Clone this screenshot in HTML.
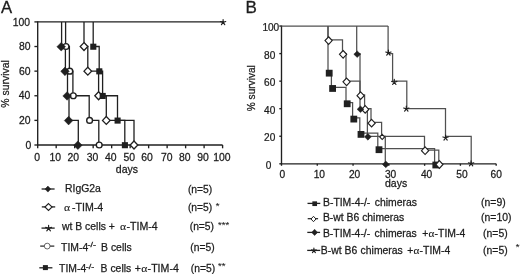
<!DOCTYPE html>
<html><head><meta charset="utf-8"><title>Survival curves</title>
<style>
html,body{margin:0;padding:0;background:#fff;}
body{width:520px;height:274px;overflow:hidden;}
svg{display:block;filter:grayscale(1);}
text{font-family:"Liberation Sans", sans-serif;fill:#1c1c1c;}
</style></head>
<body>
<svg width="520" height="274" viewBox="0 0 520 274">
<rect width="520" height="274" fill="#fff"/>
<text transform="translate(1,13) scale(1.03,1)" font-size="16.2" text-anchor="start" stroke="#1c1c1c" stroke-width="0.3" >A</text>
<path d="M37.7,21.3V145H222.6" stroke="#202020" stroke-width="1.35" fill="none"/>
<path d="M34.4,145H37.7" stroke="#202020" stroke-width="1.35"/>
<path d="M34.4,120.38H37.7" stroke="#202020" stroke-width="1.35"/>
<path d="M34.4,95.76H37.7" stroke="#202020" stroke-width="1.35"/>
<path d="M34.4,71.14H37.7" stroke="#202020" stroke-width="1.35"/>
<path d="M34.4,46.52H37.7" stroke="#202020" stroke-width="1.35"/>
<path d="M34.4,21.9H37.7" stroke="#202020" stroke-width="1.35"/>
<text transform="translate(30,25.7) scale(1.04,1)" font-size="10" text-anchor="end" stroke="#1c1c1c" stroke-width="0.25" >100</text>
<text transform="translate(30.5,50.2) scale(1.04,1)" font-size="10" text-anchor="end" stroke="#1c1c1c" stroke-width="0.25" >80</text>
<text transform="translate(30.5,74.8) scale(1.04,1)" font-size="10" text-anchor="end" stroke="#1c1c1c" stroke-width="0.25" >60</text>
<text transform="translate(30.4,99.3) scale(1.04,1)" font-size="10" text-anchor="end" stroke="#1c1c1c" stroke-width="0.25" >40</text>
<text transform="translate(30.5,123.9) scale(1.04,1)" font-size="10" text-anchor="end" stroke="#1c1c1c" stroke-width="0.25" >20</text>
<text transform="translate(31.2,148.9) scale(1.04,1)" font-size="10" text-anchor="end" stroke="#1c1c1c" stroke-width="0.25" >0</text>
<path d="M37.7,145V148.3" stroke="#202020" stroke-width="1.35"/>
<path d="M56.19,145V148.3" stroke="#202020" stroke-width="1.35"/>
<path d="M74.68,145V148.3" stroke="#202020" stroke-width="1.35"/>
<path d="M93.17,145V148.3" stroke="#202020" stroke-width="1.35"/>
<path d="M111.66,145V148.3" stroke="#202020" stroke-width="1.35"/>
<path d="M130.15,145V148.3" stroke="#202020" stroke-width="1.35"/>
<path d="M148.64,145V148.3" stroke="#202020" stroke-width="1.35"/>
<path d="M167.13,145V148.3" stroke="#202020" stroke-width="1.35"/>
<path d="M185.62,145V148.3" stroke="#202020" stroke-width="1.35"/>
<path d="M204.11,145V148.3" stroke="#202020" stroke-width="1.35"/>
<path d="M222.6,145V148.3" stroke="#202020" stroke-width="1.35"/>
<text transform="translate(37.2,160.9) scale(1.04,1)" font-size="10" text-anchor="middle" stroke="#1c1c1c" stroke-width="0.25" >0</text>
<text transform="translate(55.25,160.9) scale(1.04,1)" font-size="10" text-anchor="middle" stroke="#1c1c1c" stroke-width="0.25" >10</text>
<text transform="translate(73.3,160.9) scale(1.04,1)" font-size="10" text-anchor="middle" stroke="#1c1c1c" stroke-width="0.25" >20</text>
<text transform="translate(92.55,160.9) scale(1.04,1)" font-size="10" text-anchor="middle" stroke="#1c1c1c" stroke-width="0.25" >30</text>
<text transform="translate(110.75,160.9) scale(1.04,1)" font-size="10" text-anchor="middle" stroke="#1c1c1c" stroke-width="0.25" >40</text>
<text transform="translate(129.2,160.9) scale(1.04,1)" font-size="10" text-anchor="middle" stroke="#1c1c1c" stroke-width="0.25" >50</text>
<text transform="translate(147.05,160.9) scale(1.04,1)" font-size="10" text-anchor="middle" stroke="#1c1c1c" stroke-width="0.25" >60</text>
<text transform="translate(166.85,160.9) scale(1.04,1)" font-size="10" text-anchor="middle" stroke="#1c1c1c" stroke-width="0.25" >70</text>
<text transform="translate(184.85,160.9) scale(1.04,1)" font-size="10" text-anchor="middle" stroke="#1c1c1c" stroke-width="0.25" >80</text>
<text transform="translate(203.05,160.9) scale(1.04,1)" font-size="10" text-anchor="middle" stroke="#1c1c1c" stroke-width="0.25" >90</text>
<text transform="translate(221.95,160.9) scale(1.04,1)" font-size="10" text-anchor="middle" stroke="#1c1c1c" stroke-width="0.25" >100</text>
<text transform="translate(126.95,172.6) scale(1.03,1)" font-size="10.2" text-anchor="middle" stroke="#1c1c1c" stroke-width="0.25" >days</text>
<text transform="translate(8.8,83.9) rotate(-90)" font-size="10.45" text-anchor="middle" stroke="#1c1c1c" stroke-width="0.25">% survival</text>
<path d="M37.7,21.9H223" stroke="#202020" stroke-width="1.35"/>
<path d="M61.6,21.9H61.6V46.52H65.4V71.14H67.5V95.76H69V120.38H78.3V145" stroke="#202020" stroke-width="1.3" fill="none"/>
<path d="M65.6,21.9H65.6V46.52H69.4V71.14H72.9V95.76H89.2V120.38H98.8V145" stroke="#202020" stroke-width="1.3" fill="none"/>
<path d="M84,21.9H84V46.52H87.8V71.14H98.6V95.76H106.3V120.38H134V145" stroke="#202020" stroke-width="1.3" fill="none"/>
<path d="M93.2,21.9H93.2V46.52H99.2V71.14H102.6V95.76H117.5V120.38H124.8V145" stroke="#202020" stroke-width="1.3" fill="none"/>
<polygon points="84,42.57 87.8,46.52 84,50.47 80.2,46.52" fill="#fff" stroke="#202020" stroke-width="1.3"/>
<polygon points="87.8,67.19 91.6,71.14 87.8,75.09 84,71.14" fill="#fff" stroke="#202020" stroke-width="1.3"/>
<polygon points="98.6,91.81 102.4,95.76 98.6,99.71 94.8,95.76" fill="#fff" stroke="#202020" stroke-width="1.3"/>
<polygon points="106.3,116.43 110.1,120.38 106.3,124.33 102.5,120.38" fill="#fff" stroke="#202020" stroke-width="1.3"/>
<polygon points="134,141.05 137.8,145 134,148.95 130.2,145" fill="#fff" stroke="#202020" stroke-width="1.3"/>
<rect x="90.25" y="43.67" width="6.1" height="6.1" fill="#202020"/>
<rect x="96.25" y="68.29" width="6.1" height="6.1" fill="#202020"/>
<rect x="99.65" y="92.91" width="6.1" height="6.1" fill="#202020"/>
<rect x="114.55" y="117.53" width="6.1" height="6.1" fill="#202020"/>
<rect x="121.85" y="142.15" width="6.1" height="6.1" fill="#202020"/>
<circle cx="66" cy="46.52" r="2.9" fill="#fff" stroke="#202020" stroke-width="1.4"/>
<circle cx="69.8" cy="71.14" r="2.9" fill="#fff" stroke="#202020" stroke-width="1.4"/>
<circle cx="73.3" cy="95.76" r="2.9" fill="#fff" stroke="#202020" stroke-width="1.4"/>
<circle cx="89.6" cy="120.38" r="2.9" fill="#fff" stroke="#202020" stroke-width="1.4"/>
<circle cx="99.2" cy="145" r="2.9" fill="#fff" stroke="#202020" stroke-width="1.4"/>
<polygon points="61.2,42.42 65.5,46.72 61.2,51.02 56.9,46.72" fill="#202020" stroke="#202020" stroke-width="0.5" stroke-linejoin="miter"/>
<polygon points="65,67.04 69.3,71.34 65,75.64 60.7,71.34" fill="#202020" stroke="#202020" stroke-width="0.5" stroke-linejoin="miter"/>
<polygon points="67.1,91.66 71.4,95.96 67.1,100.26 62.8,95.96" fill="#202020" stroke="#202020" stroke-width="0.5" stroke-linejoin="miter"/>
<polygon points="68.6,116.28 72.9,120.58 68.6,124.88 64.3,120.58" fill="#202020" stroke="#202020" stroke-width="0.5" stroke-linejoin="miter"/>
<polygon points="77.9,140.9 82.2,145.2 77.9,149.5 73.6,145.2" fill="#202020" stroke="#202020" stroke-width="0.5" stroke-linejoin="miter"/>
<path d="M223.1,22.4L223.1,19.6M223.1,22.4L225.76,21.53M223.1,22.4L224.75,24.67M223.1,22.4L221.45,24.67M223.1,22.4L220.44,21.53" stroke="#202020" stroke-width="1.15" fill="none" stroke-linecap="round"/>
<text transform="translate(245.4,13.4) scale(1.04,1)" font-size="16.4" text-anchor="start" stroke="#1c1c1c" stroke-width="0.3" >B</text>
<path d="M281.5,25.45V163.8H496.18" stroke="#202020" stroke-width="1.35" fill="none"/>
<path d="M279.3,163.8H281.5" stroke="#202020" stroke-width="1.35"/>
<path d="M279.3,136.25H281.5" stroke="#202020" stroke-width="1.35"/>
<path d="M279.3,108.7H281.5" stroke="#202020" stroke-width="1.35"/>
<path d="M279.3,81.15H281.5" stroke="#202020" stroke-width="1.35"/>
<path d="M279.3,53.6H281.5" stroke="#202020" stroke-width="1.35"/>
<path d="M279.3,26.05H281.5" stroke="#202020" stroke-width="1.35"/>
<text transform="translate(262.4,31.05) scale(0.99,1)" font-size="10.2" text-anchor="start" stroke="#1c1c1c" stroke-width="0.25" >100</text>
<text transform="translate(264.1,58.6) scale(0.99,1)" font-size="10.2" text-anchor="start" stroke="#1c1c1c" stroke-width="0.25" >80</text>
<text transform="translate(264.1,86.15) scale(0.99,1)" font-size="10.2" text-anchor="start" stroke="#1c1c1c" stroke-width="0.25" >60</text>
<text transform="translate(264.1,113.7) scale(0.99,1)" font-size="10.2" text-anchor="start" stroke="#1c1c1c" stroke-width="0.25" >40</text>
<text transform="translate(264.1,141.25) scale(0.99,1)" font-size="10.2" text-anchor="start" stroke="#1c1c1c" stroke-width="0.25" >20</text>
<text transform="translate(265.8,168.8) scale(0.99,1)" font-size="10.2" text-anchor="start" stroke="#1c1c1c" stroke-width="0.25" >0</text>
<path d="M281.5,163.8V165.8" stroke="#202020" stroke-width="1.35"/>
<path d="M317.28,163.8V165.8" stroke="#202020" stroke-width="1.35"/>
<path d="M353.06,163.8V165.8" stroke="#202020" stroke-width="1.35"/>
<path d="M388.84,163.8V165.8" stroke="#202020" stroke-width="1.35"/>
<path d="M424.62,163.8V165.8" stroke="#202020" stroke-width="1.35"/>
<path d="M460.4,163.8V165.8" stroke="#202020" stroke-width="1.35"/>
<path d="M496.18,163.8V165.8" stroke="#202020" stroke-width="1.35"/>
<text transform="translate(282.4,177.7) scale(1.02,1)" font-size="10" text-anchor="middle" stroke="#1c1c1c" stroke-width="0.25" >0</text>
<text transform="translate(319.35,177.7) scale(1.02,1)" font-size="10" text-anchor="middle" stroke="#1c1c1c" stroke-width="0.25" >10</text>
<text transform="translate(354.55,177.7) scale(1.02,1)" font-size="10" text-anchor="middle" stroke="#1c1c1c" stroke-width="0.25" >20</text>
<text transform="translate(390.6,177.7) scale(1.02,1)" font-size="10" text-anchor="middle" stroke="#1c1c1c" stroke-width="0.25" >30</text>
<text transform="translate(426.6,177.7) scale(1.02,1)" font-size="10" text-anchor="middle" stroke="#1c1c1c" stroke-width="0.25" >40</text>
<text transform="translate(461.9,177.7) scale(1.02,1)" font-size="10" text-anchor="middle" stroke="#1c1c1c" stroke-width="0.25" >50</text>
<text transform="translate(496.25,177.7) scale(1.02,1)" font-size="10" text-anchor="middle" stroke="#1c1c1c" stroke-width="0.25" >60</text>
<text transform="translate(385,186.5) scale(1.03,1)" font-size="10.2" text-anchor="start" stroke="#1c1c1c" stroke-width="0.25" >days</text>
<text transform="translate(255.3,88.2) rotate(-90)" font-size="10.1" text-anchor="middle" stroke="#1c1c1c" stroke-width="0.25">% survival</text>
<path d="M281.5,26.05H388.1" stroke="#505050" stroke-width="1.3"/>
<path d="M328,26.05H328V71.96H331.4V87.27H346V102.58H352.6V117.89H359.8V133.19H377.8V148.5H434.6V163.8" stroke="#505050" stroke-width="1.25" fill="none"/>
<path d="M328,26.05H328V39.83H342.5V53.6H346V81.15H360V94.93H364.6V108.7H371V122.48H381.6V136.25H424.5V150.03H438.8V163.8" stroke="#505050" stroke-width="1.25" fill="none"/>
<path d="M356.7,26.05H356.7V53.6H360V108.7H367.4V136.25H385.3V163.8" stroke="#505050" stroke-width="1.25" fill="none"/>
<path d="M388.1,26.05H388.1V53.6H392.6V81.15H406.8V108.7H445.5V136.25H471.2V163.8" stroke="#505050" stroke-width="1.25" fill="none"/>
<rect x="325.8" y="69.76" width="6.8" height="6.8" fill="#202020"/>
<rect x="329.2" y="85.07" width="6.8" height="6.8" fill="#202020"/>
<rect x="343.8" y="100.38" width="6.8" height="6.8" fill="#202020"/>
<rect x="350.4" y="115.69" width="6.8" height="6.8" fill="#202020"/>
<rect x="357.6" y="130.99" width="6.8" height="6.8" fill="#202020"/>
<rect x="375.6" y="146.3" width="6.8" height="6.8" fill="#202020"/>
<rect x="432.4" y="161.6" width="6.8" height="6.8" fill="#202020"/>
<polygon points="328.6,36.73 332.2,40.53 328.6,44.33 325,40.53" fill="#fff" stroke="#202020" stroke-width="1.15"/>
<polygon points="343.1,50.5 346.7,54.3 343.1,58.1 339.5,54.3" fill="#fff" stroke="#202020" stroke-width="1.15"/>
<polygon points="346.6,78.05 350.2,81.85 346.6,85.65 343,81.85" fill="#fff" stroke="#202020" stroke-width="1.15"/>
<polygon points="360.6,91.83 364.2,95.63 360.6,99.43 357,95.63" fill="#fff" stroke="#202020" stroke-width="1.15"/>
<polygon points="365.2,105.6 368.8,109.4 365.2,113.2 361.6,109.4" fill="#fff" stroke="#202020" stroke-width="1.15"/>
<polygon points="371.6,119.38 375.2,123.18 371.6,126.98 368,123.18" fill="#fff" stroke="#202020" stroke-width="1.15"/>
<polygon points="382.2,134.37 384.65,136.95 382.2,139.53 379.75,136.95" fill="#fff" stroke="#202020" stroke-width="1.15"/>
<polygon points="425.1,146.92 428.7,150.72 425.1,154.53 421.5,150.72" fill="#fff" stroke="#202020" stroke-width="1.15"/>
<polygon points="439.4,160.7 443,164.5 439.4,168.3 435.8,164.5" fill="#fff" stroke="#202020" stroke-width="1.15"/>
<polygon points="357.2,50.9 360.6,54.2 357.2,57.5 353.8,54.2" fill="#202020" stroke="#202020" stroke-width="0.5" stroke-linejoin="miter"/>
<polygon points="360.5,106 363.9,109.3 360.5,112.6 357.1,109.3" fill="#202020" stroke="#202020" stroke-width="0.5" stroke-linejoin="miter"/>
<polygon points="367.9,133.55 371.3,136.85 367.9,140.15 364.5,136.85" fill="#202020" stroke="#202020" stroke-width="0.5" stroke-linejoin="miter"/>
<polygon points="385.8,161.1 389.2,164.4 385.8,167.7 382.4,164.4" fill="#202020" stroke="#202020" stroke-width="0.5" stroke-linejoin="miter"/>
<path d="M388.4,52.9L388.4,50.1M388.4,52.9L391.06,52.03M388.4,52.9L390.05,55.17M388.4,52.9L386.75,55.17M388.4,52.9L385.74,52.03" stroke="#202020" stroke-width="1.15" fill="none" stroke-linecap="round"/>
<path d="M394.3,82.2L394.3,79.4M394.3,82.2L396.96,81.33M394.3,82.2L395.95,84.47M394.3,82.2L392.65,84.47M394.3,82.2L391.64,81.33" stroke="#202020" stroke-width="1.15" fill="none" stroke-linecap="round"/>
<path d="M406.3,108.9L406.3,106.1M406.3,108.9L408.96,108.03M406.3,108.9L407.95,111.17M406.3,108.9L404.65,111.17M406.3,108.9L403.64,108.03" stroke="#202020" stroke-width="1.15" fill="none" stroke-linecap="round"/>
<path d="M445.6,137.8L445.6,135M445.6,137.8L448.26,136.93M445.6,137.8L447.25,140.07M445.6,137.8L443.95,140.07M445.6,137.8L442.94,136.93" stroke="#202020" stroke-width="1.15" fill="none" stroke-linecap="round"/>
<path d="M471.1,163.6L471.1,160.8M471.1,163.6L473.76,162.73M471.1,163.6L472.75,165.87M471.1,163.6L469.45,165.87M471.1,163.6L468.44,162.73" stroke="#202020" stroke-width="1.15" fill="none" stroke-linecap="round"/>
<path d="M41.6,189H54.6" stroke="#202020" stroke-width="1.3"/>
<polygon points="47.9,186.1 50.8,189.1 47.9,192.1 45,189.1" fill="#202020" stroke="#202020" stroke-width="0.5" stroke-linejoin="miter"/>
<path d="M41.8,206.9H55.2" stroke="#202020" stroke-width="1.3"/>
<polygon points="48.5,203.6 52.1,207 48.5,210.4 44.9,207" fill="#fff" stroke="#202020" stroke-width="1.1"/>
<path d="M41.5,228.1H54.7" stroke="#202020" stroke-width="1.3"/>
<path d="M48.6,228.3L48.6,225.2M48.6,228.3L51.55,227.34M48.6,228.3L50.42,230.81M48.6,228.3L46.78,230.81M48.6,228.3L45.65,227.34" stroke="#202020" stroke-width="1.15" fill="none" stroke-linecap="round"/>
<path d="M40.2,246.1H54.3" stroke="#202020" stroke-width="1.2"/>
<circle cx="47.2" cy="246.1" r="2.9" fill="#fff" stroke="#555" stroke-width="0.9"/>
<path d="M39.3,267.8H52.4" stroke="#202020" stroke-width="1.3"/>
<rect x="42.9" y="265.1" width="5" height="5" fill="#202020"/>
<text x="65" y="192.4" font-size="10.4" text-anchor="start" stroke="#1c1c1c" stroke-width="0.25" >RIgG2a</text>
<text transform="translate(187.9,192.9) scale(1.01,1)" font-size="10.2" text-anchor="start" stroke="#1c1c1c" stroke-width="0.25" >(n=5)</text>
<text transform="translate(63.9,210.7) scale(1.12,1)" font-size="10.4" style="font-family:'Liberation Serif', serif" stroke="#1c1c1c" stroke-width="0.12">&#945;</text>
<text transform="translate(72,210.6) scale(1.02,1)" font-size="10.4" text-anchor="start" stroke="#1c1c1c" stroke-width="0.25" >-TIM-4</text>
<text transform="translate(187.9,210.7) scale(1.01,1)" font-size="10.2" text-anchor="start" stroke="#1c1c1c" stroke-width="0.25" >(n=5)</text>
<text x="215.8" y="208.9" font-size="9.5" text-anchor="start" stroke="#1c1c1c" stroke-width="0.1" >*</text>
<text x="62" y="230.2" font-size="10.4" text-anchor="start" stroke="#1c1c1c" stroke-width="0.25" >wt B cells +</text>
<text transform="translate(120,230.2) scale(1.12,1)" font-size="10.4" style="font-family:'Liberation Serif', serif" stroke="#1c1c1c" stroke-width="0.12">&#945;</text>
<text transform="translate(126.5,230.2) scale(1.02,1)" font-size="10.4" text-anchor="start" stroke="#1c1c1c" stroke-width="0.25" >-TIM-4</text>
<text transform="translate(189.7,229.9) scale(1.01,1)" font-size="10.2" text-anchor="start" stroke="#1c1c1c" stroke-width="0.25" >(n=5)</text>
<text x="218" y="228" font-size="9.5" text-anchor="start" stroke="#1c1c1c" stroke-width="0.1" >***</text>
<text x="61.1" y="250.7" font-size="10.4" text-anchor="start" stroke="#1c1c1c" stroke-width="0.25" >TIM-4</text>
<text transform="translate(87.4,247.3) scale(1.25,1)" font-size="7.2" text-anchor="start" stroke="#1c1c1c" stroke-width="0.25" >-/-</text>
<text x="101.1" y="250.7" font-size="10.4" text-anchor="start" stroke="#1c1c1c" stroke-width="0.25" >B cells</text>
<text transform="translate(190.3,250.8) scale(1.01,1)" font-size="10.2" text-anchor="start" stroke="#1c1c1c" stroke-width="0.25" >(n=5)</text>
<text x="59.1" y="272" font-size="10.4" text-anchor="start" stroke="#1c1c1c" stroke-width="0.25" >TIM-4</text>
<text transform="translate(85.8,268.6) scale(1.25,1)" font-size="7.2" text-anchor="start" stroke="#1c1c1c" stroke-width="0.25" >-/-</text>
<text x="100.6" y="272" font-size="10.4" text-anchor="start" stroke="#1c1c1c" stroke-width="0.25" >B cells</text>
<text x="134.8" y="272" font-size="10.4" text-anchor="start" stroke="#1c1c1c" stroke-width="0.25" >+</text>
<text transform="translate(141.2,272) scale(1.12,1)" font-size="10.4" style="font-family:'Liberation Serif', serif" stroke="#1c1c1c" stroke-width="0.12">&#945;</text>
<text transform="translate(147.6,272) scale(1.02,1)" font-size="10.4" text-anchor="start" stroke="#1c1c1c" stroke-width="0.25" >-TIM-4</text>
<text transform="translate(190.8,271.6) scale(1.01,1)" font-size="10.2" text-anchor="start" stroke="#1c1c1c" stroke-width="0.25" >(n=5)</text>
<text x="218" y="269.4" font-size="9.5" text-anchor="start" stroke="#1c1c1c" stroke-width="0.1" >**</text>
<path d="M307.5,203.4H320.3" stroke="#202020" stroke-width="1.3"/>
<rect x="312.35" y="201.35" width="4.7" height="4.7" fill="#202020"/>
<path d="M307.7,218.7H318.1" stroke="#202020" stroke-width="1.2"/>
<polygon points="313.5,216.3 316,219 313.5,221.7 311,219" fill="#fff" stroke="#202020" stroke-width="1.0"/>
<path d="M307.3,232.4H320.1" stroke="#202020" stroke-width="1.3"/>
<polygon points="314.6,229.3 317.6,232.4 314.6,235.5 311.6,232.4" fill="#202020" stroke="#202020" stroke-width="0.5" stroke-linejoin="miter"/>
<path d="M307.2,250.4H320.2" stroke="#202020" stroke-width="1.3"/>
<path d="M313.9,250.6L313.9,248.1M313.9,250.6L316.28,249.83M313.9,250.6L315.37,252.62M313.9,250.6L312.43,252.62M313.9,250.6L311.52,249.83" stroke="#202020" stroke-width="1.15" fill="none" stroke-linecap="round"/>
<text transform="translate(323,205.7) scale(1.04,1)" font-size="10.0" text-anchor="start" stroke="#1c1c1c" stroke-width="0.25" >B-TIM-4-/-</text>
<text transform="translate(374.8,205.7) scale(1.04,1)" font-size="10.0" text-anchor="start" stroke="#1c1c1c" stroke-width="0.25" >chimeras</text>
<text transform="translate(481.1,205.6) scale(1.04,1)" font-size="10.0" text-anchor="start" stroke="#1c1c1c" stroke-width="0.25" >(n=9)</text>
<text transform="translate(322.9,221.1) scale(1.04,1)" font-size="10.0" text-anchor="start" stroke="#1c1c1c" stroke-width="0.25" >B-wt B6 chimeras</text>
<text transform="translate(481.1,221.3) scale(1.04,1)" font-size="10.0" text-anchor="start" stroke="#1c1c1c" stroke-width="0.25" >(n=10)</text>
<text transform="translate(322.9,237) scale(1.04,1)" font-size="10.0" text-anchor="start" stroke="#1c1c1c" stroke-width="0.25" >B-TIM-4-/-</text>
<text transform="translate(374.6,237) scale(1.04,1)" font-size="10.0" text-anchor="start" stroke="#1c1c1c" stroke-width="0.25" >chimeras</text>
<text transform="translate(422.3,237) scale(1.04,1)" font-size="10.0" text-anchor="start" stroke="#1c1c1c" stroke-width="0.25" >+</text>
<text transform="translate(428.4,237) scale(1.12,1)" font-size="10" style="font-family:'Liberation Serif', serif" stroke="#1c1c1c" stroke-width="0.12">&#945;</text>
<text transform="translate(434.6,237) scale(1.04,1)" font-size="10.0" text-anchor="start" stroke="#1c1c1c" stroke-width="0.25" >-TIM-4</text>
<text transform="translate(483.1,237.4) scale(1.04,1)" font-size="10.0" text-anchor="start" stroke="#1c1c1c" stroke-width="0.25" >(n=5)</text>
<text transform="translate(320.8,253.9) scale(1.04,1)" font-size="10.0" text-anchor="start" stroke="#1c1c1c" stroke-width="0.25" >B-wt B6</text>
<text transform="translate(360.6,253.9) scale(1.04,1)" font-size="10.0" text-anchor="start" stroke="#1c1c1c" stroke-width="0.25" >chimeras</text>
<text transform="translate(407.3,253.9) scale(1.04,1)" font-size="10.0" text-anchor="start" stroke="#1c1c1c" stroke-width="0.25" >+</text>
<text transform="translate(413.4,253.9) scale(1.12,1)" font-size="10" style="font-family:'Liberation Serif', serif" stroke="#1c1c1c" stroke-width="0.12">&#945;</text>
<text transform="translate(419.6,253.9) scale(1.04,1)" font-size="10.0" text-anchor="start" stroke="#1c1c1c" stroke-width="0.25" >-TIM-4</text>
<text transform="translate(483.1,254) scale(1.04,1)" font-size="10.0" text-anchor="start" stroke="#1c1c1c" stroke-width="0.25" >(n=5)</text>
<text x="515.8" y="249.9" font-size="9.5" text-anchor="start" stroke="#1c1c1c" stroke-width="0.1" >*</text>
</svg>
</body></html>
